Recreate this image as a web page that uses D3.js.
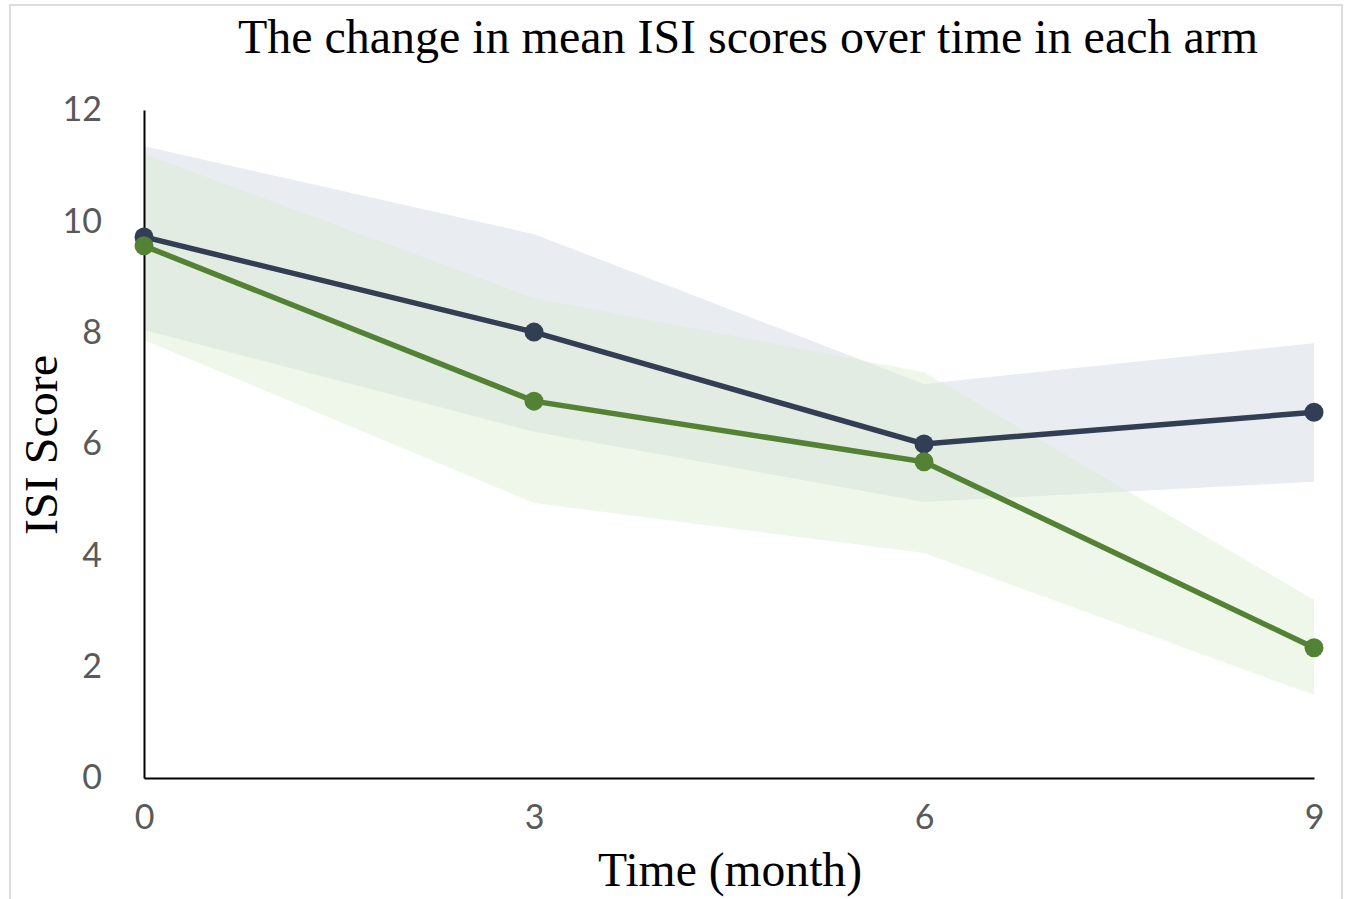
<!DOCTYPE html>
<html>
<head>
<meta charset="utf-8">
<script src="https://cdn.jsdelivr.net/npm/d3@7.9.0/dist/d3.min.js"></script>
<style>
  html, body { margin: 0; padding: 0; background: #fff; }
  svg { display: block; }
</style>
</head>
<body>
<svg id="chart" width="1348" height="899"></svg>
<script>
// data
const months = [0, 3, 6, 9];
const controlMean = [9.72, 8.01, 6.0, 6.57];
const controlUpper = [11.35, 9.77, 7.08, 7.81];
const controlLower = [8.05, 6.22, 4.96, 5.32];
const treatMean = [9.56, 6.77, 5.68, 2.34];
const treatUpper = [11.21, 8.62, 7.29, 3.2];
const treatLower = [7.87, 4.94, 4.04, 1.49];
const yTicks = [0, 2, 4, 6, 8, 10, 12];

const svg = d3.select("#chart");
const margin = { left: 144, right: 34, top: 110, bottom: 121 };
const W = 1348, H = 899;

// faint frame around the picture
svg.append("rect")
    .attr("x", 10).attr("y", 5)
    .attr("width", 1332).attr("height", 910)
    .attr("fill", "none")
    .attr("stroke", "#dcdcdc")
    .attr("stroke-width", 2);

const x = d3.scaleLinear().domain([0, 9]).range([margin.left, W - margin.right]);
const y = d3.scaleLinear().domain([0, 12]).range([H - margin.bottom, margin.top]);

const area = d3.area()
    .x(d => x(d.t))
    .y0(d => y(d.lo))
    .y1(d => y(d.hi));

const ctrlBand = months.map((t, i) => ({ t, lo: controlLower[i], hi: controlUpper[i] }));
const trtBand = months.map((t, i) => ({ t, lo: treatLower[i], hi: treatUpper[i] }));

svg.append("path").datum(ctrlBand)
    .attr("d", area)
    .attr("fill", "#e9ecf1");
svg.append("path").datum(trtBand)
    .attr("d", area)
    .attr("fill", "#daebcc")
    .attr("fill-opacity", 0.42);

// axes
const yAxis = d3.axisLeft(y).tickValues(yTicks).tickSize(0).tickPadding(42);
const xAxis = d3.axisBottom(x).tickValues(months).tickSize(0).tickPadding(27);

const gy = svg.append("g").attr("transform", `translate(${margin.left},0)`).call(yAxis);
const gx = svg.append("g").attr("transform", `translate(0,${H - margin.bottom})`).call(xAxis);
[gx, gy].forEach(g => {
    g.select(".domain").attr("stroke", "#000").attr("stroke-width", 2);
    g.selectAll("text")
        .attr("fill", "#595959")
        .style("font-family", "Lato, 'Open Sans', sans-serif")
        .style("font-size", "34px");
});

// lines and markers
const line = d3.line().x(d => x(d[0])).y(d => y(d[1]));
const series = [
    { values: controlMean, color: "#323e53" },
    { values: treatMean, color: "#548235" }
];
series.forEach(s => {
    const pts = months.map((t, i) => [t, s.values[i]]);
    svg.append("path").datum(pts)
        .attr("d", line)
        .attr("fill", "none")
        .attr("stroke", s.color)
        .attr("stroke-width", 5.5);
    svg.selectAll(null).data(pts).enter().append("circle")
        .attr("cx", d => x(d[0]))
        .attr("cy", d => y(d[1]))
        .attr("r", 9.5)
        .attr("fill", s.color);
});

// titles
const serif = "'Liberation Serif', 'Times New Roman', serif";
svg.append("text")
    .attr("x", 748).attr("y", 53)
    .attr("text-anchor", "middle")
    .attr("textLength", 1020)
    .attr("lengthAdjust", "spacingAndGlyphs")
    .style("font-family", serif)
    .style("font-size", "48px")
    .text("The change in mean ISI scores over time in each arm");

svg.append("text")
    .attr("x", 730).attr("y", 886)
    .attr("text-anchor", "middle")
    .attr("textLength", 264)
    .attr("lengthAdjust", "spacingAndGlyphs")
    .style("font-family", serif)
    .style("font-size", "48px")
    .text("Time (month)");

svg.append("text")
    .attr("transform", "translate(57,445) rotate(-90)")
    .attr("text-anchor", "middle")
    .attr("textLength", 180)
    .attr("lengthAdjust", "spacingAndGlyphs")
    .style("font-family", serif)
    .style("font-size", "46px")
    .text("ISI Score");
</script>
</body>
</html>
